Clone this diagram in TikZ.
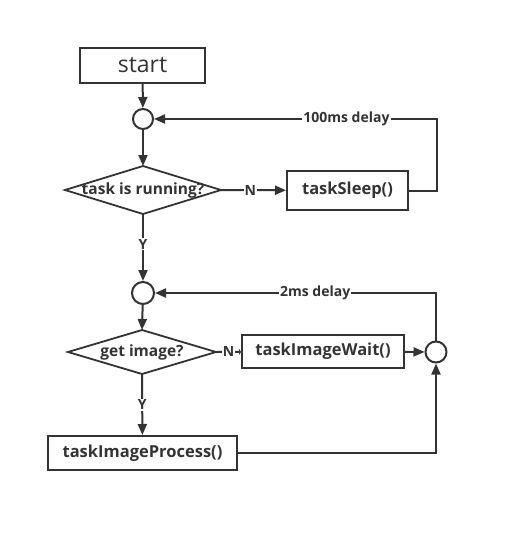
\documentclass[tikz,border=0pt]{standalone}
\usepackage{fontspec}
\setmainfont{Open Sans}
\usetikzlibrary{arrows.meta,shapes.geometric}
\definecolor{ink}{HTML}{333333}
\tikzset{
  x=1pt,y=-1pt,
  boxnode/.style={draw=ink,line width=2pt,rectangle,inner sep=0pt,text=ink,font=\bfseries\fontsize{16.5}{18}\selectfont},
  dtext/.style={draw=none,inner sep=0pt,text=ink,font=\bfseries\fontsize{15.5}{17}\selectfont},
  dshape/.style={draw=ink,line width=1.8pt,line join=miter},
  junction/.style={draw=ink,line width=2pt,circle,inner sep=0pt},
  lbl/.style={fill=white,inner sep=1pt,text=ink,font=\bfseries\fontsize{14}{15}\selectfont},
  arr/.style={-{Triangle[length=11pt,width=9pt]},draw=ink,line width=2pt},
  arrsmall/.style={-{Triangle[length=2pt,width=6pt]},draw=ink,line width=2pt},
}
\begin{document}
\begin{tikzpicture}
\fill[white] (0,0) rectangle (508,533);
\useasboundingbox (0,0) rectangle (508,533);
\node[boxnode,minimum width=125pt,minimum height=35pt,font=\fontsize{23}{26}\selectfont] (start) at (142.5,65.5) {start};
\node[junction,minimum size=20pt] (c1) at (143,119) {};
\node[dtext] (d1) at (143,190) {task is running?};
\draw[dshape] (65,190) -- (143,166) -- (221,190) -- (143,214) -- cycle;
\coordinate (d1r) at (221,190);
\coordinate (d1t) at (143,166);
\coordinate (d1b) at (143,214);
\node[boxnode,minimum width=121pt,minimum height=39pt] (sleep) at (347.5,190.5) {taskSleep()};
\node[junction,minimum size=22pt] (c2) at (143,293) {};
\node[dtext] (d2) at (142,352) {get image?};
\draw[dshape] (68,352) -- (142,330) -- (216,352) -- (142,374) -- cycle;
\coordinate (d2r) at (216,352);
\coordinate (d2t) at (142,330);
\coordinate (d2b) at (142,374);
\node[boxnode,minimum width=162pt,minimum height=33pt] (wait) at (323,351.5) {taskImageWait()};
\node[junction,minimum size=21pt] (c3) at (436,352) {};
\node[boxnode,minimum width=189pt,minimum height=34pt] (proc) at (142.5,453) {taskImageProcess()};
\coordinate (k1) at (437,190.5);
\coordinate (k2) at (437,119);
\coordinate (k3) at (436,293);
\coordinate (k4) at (436,453);
% connectors
\draw[arr] (start) -- (c1);
\draw[arr] (c1) -- (d1t);
\draw[arr] (d1r) -- node[lbl,pos=0.45] {N} (sleep);
\draw[arr] (sleep.east) -- (k1) -- (k2) -- node[lbl,pos=0.32] {100ms delay} (c1);
\draw[arr] (d1b) -- node[lbl,pos=0.45] {Y} (c2);
\draw[arr] (c2) -- (d2t);
\draw[arrsmall] (d2r) -- node[lbl,pos=0.5,inner sep=0.5pt] {N} (wait);
\draw[arr] (wait) -- (c3);
\draw[arr] (c3) -- (k3) -- node[lbl,pos=0.43] {2ms delay} (c2);
\draw[arr] (d2b) -- node[lbl,pos=0.5] {Y} (proc);
\draw[arr] (proc.east) -- (k4) -- (c3);
\end{tikzpicture}
\end{document}
